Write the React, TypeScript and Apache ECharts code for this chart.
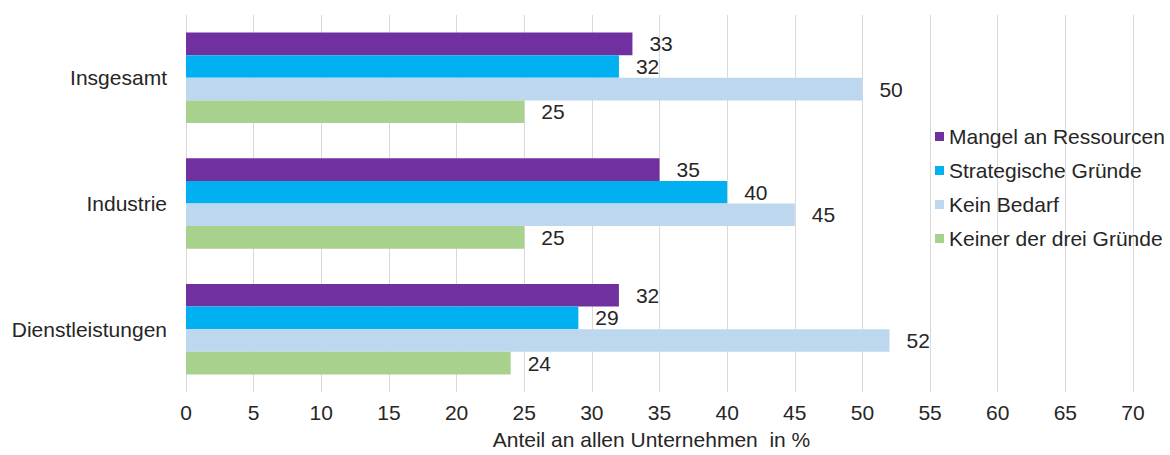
import React, { useEffect, useRef } from "react";
import * as echarts from "echarts";

const categories = ["Insgesamt", "Industrie", "Dienstleistungen"];
const seriesNames = [
  "Mangel an Ressourcen",
  "Strategische Gründe",
  "Kein Bedarf",
  "Keiner der drei Gründe",
];
const mangelAnRessourcen = [33, 35, 32];
const strategischeGruende = [32, 40, 29];
const keinBedarf = [50, 45, 52];
const keinerDerDreiGruende = [25, 25, 24];
const seriesColors = ["#7030A0", "#00B0F0", "#BDD7EE", "#A9D18E"];
const axisTitle = "Anteil an allen Unternehmen  in %";

const FONT = "'Liberation Sans', Arial, sans-serif";
const TEXT = "#262626";
const FS = 21;

export default function App() {
  const ref = useRef<HTMLDivElement>(null);
  useEffect(() => {
    if (!ref.current) return;
    const chart = echarts.init(ref.current, undefined, { renderer: "svg" });
    const values = [mangelAnRessourcen, strategischeGruende, keinBedarf, keinerDerDreiGruende];
    chart.setOption({
      animation: false,
      backgroundColor: "#ffffff",
      textStyle: { fontFamily: FONT, color: TEXT },
      grid: { left: 186, right: 37, top: 15, bottom: 60, containLabel: false },
      legend: {
        orient: "vertical",
        left: 930,
        top: 121,
        itemWidth: 9,
        itemHeight: 9,
        itemGap: 13,
        icon: "rect",
        textStyle: { fontFamily: FONT, fontSize: FS, color: TEXT },
        data: seriesNames,
      },
      xAxis: {
        type: "value",
        min: 0,
        max: 70,
        interval: 5,
        axisLine: { show: false },
        axisTick: { show: false },
        splitLine: { show: true, lineStyle: { color: "#d9d9d9", width: 1 } },
        axisLabel: { fontFamily: FONT, fontSize: FS, color: TEXT, margin: 10 },
        name: axisTitle,
        nameLocation: "middle",
        nameGap: 37,
        nameTextStyle: { fontFamily: FONT, fontSize: FS, color: TEXT, padding: [0, 16, 0, 0] },
      },
      yAxis: {
        type: "category",
        inverse: true,
        data: categories,
        axisLine: { show: false },
        axisTick: { show: false },
        axisLabel: { fontFamily: FONT, fontSize: FS, color: TEXT, margin: 19 },
      },
      series: seriesNames.map((name, i) => ({
        name,
        type: "bar",
        data: values[i],
        barGap: "0%",
        barCategoryGap: "28%",
        itemStyle: { color: seriesColors[i] },
        label: {
          show: true,
          position: "right",
          distance: 17,
          fontFamily: FONT,
          fontSize: FS,
          color: TEXT,
        },
      })),
    });
    return () => chart.dispose();
  }, []);
  return (
    <div
      ref={ref}
      style={{ position: "absolute", left: 0, top: 0, width: 1170, height: 455 }}
    />
  );
}
